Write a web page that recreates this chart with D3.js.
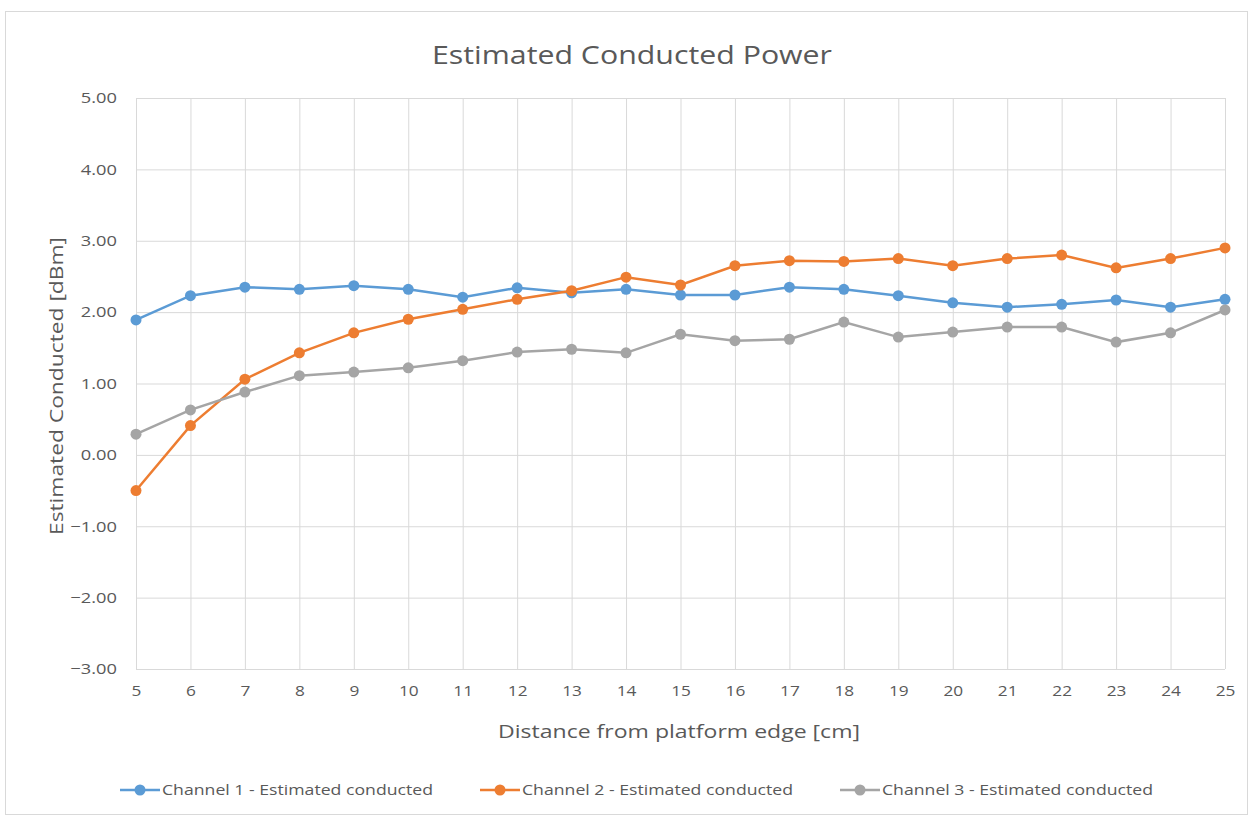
<!DOCTYPE html>
<html>
<head>
<meta charset="utf-8">
<script src="https://cdn.jsdelivr.net/npm/d3@7"></script>
<style>
  body { margin: 0; background: #fff; }
  text { font-family: "Open Sans", sans-serif; fill: #595959; }
</style>
</head>
<body>
<div id="chart"></div>
<script>
// distance from platform edge [cm]
var distances = [5, 6, 7, 8, 9, 10, 11, 12, 13, 14, 15, 16, 17, 18, 19, 20, 21, 22, 23, 24, 25];

var channel1 = [1.89, 2.23, 2.35, 2.32, 2.37, 2.32, 2.21, 2.34, 2.27, 2.32, 2.24, 2.24, 2.35, 2.32, 2.23, 2.13, 2.07, 2.11, 2.17, 2.07, 2.18];
var channel2 = [-0.50, 0.41, 1.06, 1.43, 1.71, 1.90, 2.04, 2.18, 2.30, 2.49, 2.38, 2.65, 2.72, 2.71, 2.75, 2.65, 2.75, 2.80, 2.62, 2.75, 2.90];
var channel3 = [0.29, 0.63, 0.88, 1.11, 1.16, 1.22, 1.32, 1.44, 1.48, 1.43, 1.69, 1.60, 1.62, 1.86, 1.65, 1.72, 1.79, 1.79, 1.58, 1.71, 2.03];

var seriesNames = ["Channel 1 - Estimated conducted", "Channel 2 - Estimated conducted", "Channel 3 - Estimated conducted"];
var yTicks = [-3, -2, -1, 0, 1, 2, 3, 4, 5];

var colors = ["#5b9bd5", "#ed7d31", "#a5a5a5"];
var allSeries = [channel1, channel2, channel3];

var W = 1248, H = 815;
var margin = { top: 98, right: 23, bottom: 146, left: 136 },
    width = W - margin.left - margin.right,
    height = H - margin.top - margin.bottom;

var svg = d3.select('#chart').append('svg')
    .attr('width', W)
    .attr('height', H);

// the source font is drawn wider than Open Sans, so stretch text a bit
function stretch(sel, factor, target) {
  sel.each(function() {
    var len = target || this.getComputedTextLength() * factor;
    d3.select(this)
      .attr('textLength', len)
      .attr('lengthAdjust', 'spacingAndGlyphs');
  });
}

// chart frame
svg.append('rect')
    .attr('x', 5.5).attr('y', 11.5)
    .attr('width', W - 6).attr('height', H - 12)
    .attr('fill', 'none')
    .attr('stroke', '#d9d9d9');

var xScale = d3.scaleLinear()
    .domain([5, 25])
    .range([0, width]);

var yScale = d3.scaleLinear()
    .domain([-3, 5])
    .range([height, 0]);

var g = svg.append('g')
    .attr('transform', 'translate(' + margin.left + ',' + margin.top + ')');

// horizontal grid
g.append('g')
    .call(d3.axisLeft(yScale).tickValues(yTicks).tickSize(-width).tickFormat(''))
    .call(function(a) {
      a.select('.domain').remove();
      a.selectAll('line').attr('stroke', '#d9d9d9');
    });

// vertical grid
g.append('g')
    .attr('transform', 'translate(0,' + height + ')')
    .call(d3.axisBottom(xScale).tickValues(distances).tickSize(-height).tickFormat(''))
    .call(function(a) {
      a.select('.domain').remove();
      a.selectAll('line').attr('stroke', '#d9d9d9');
    });

// y tick labels
g.append('g')
    .call(d3.axisLeft(yScale).tickValues(yTicks).tickSize(0).tickPadding(19)
      .tickFormat(d3.format('.2f')))
    .call(function(a) {
      a.select('.domain').remove();
      a.selectAll('text').style('font-size', '15px').attr('fill', '#595959')
        .call(stretch, 1.22);
    });

// x tick labels
g.append('g')
    .attr('transform', 'translate(0,' + height + ')')
    .call(d3.axisBottom(xScale).tickValues(distances).tickSize(0).tickPadding(16)
      .tickFormat(d3.format('d')))
    .call(function(a) {
      a.select('.domain').remove();
      a.selectAll('text').style('font-size', '15px').attr('fill', '#595959')
        .call(stretch, 1.15);
    });

var line = d3.line()
    .x(function(d, i) { return xScale(distances[i]); })
    .y(function(d) { return yScale(d); });

allSeries.forEach(function(s, k) {
  g.append('path')
      .datum(s)
      .attr('fill', 'none')
      .attr('stroke', colors[k])
      .attr('stroke-width', 2.5)
      .attr('d', line);

  g.selectAll('.pt' + k)
    .data(s)
    .enter().append('circle')
      .attr('class', 'pt' + k)
      .attr('cx', function(d, i) { return xScale(distances[i]); })
      .attr('cy', function(d) { return yScale(d); })
      .attr('r', 5.5)
      .attr('fill', colors[k]);
});

// title
svg.append('text')
    .attr('x', 632).attr('y', 64)
    .attr('text-anchor', 'middle')
    .style('font-size', '25px')
    .text('Estimated Conducted Power')
    .call(stretch, 1, 400);

// axis titles
svg.append('text')
    .attr('x', 679).attr('y', 738)
    .attr('text-anchor', 'middle')
    .style('font-size', '19px')
    .text('Distance from platform edge [cm]')
    .call(stretch, 1, 362);

svg.append('text')
    .attr('transform', 'translate(63,386) rotate(-90)')
    .attr('text-anchor', 'middle')
    .style('font-size', '19px')
    .text('Estimated Conducted [dBm]')
    .call(stretch, 1, 298);

// legend
var legendX = [120, 480, 840];
var legend = svg.append('g').attr('transform', 'translate(0,790)');
seriesNames.forEach(function(name, k) {
  var lg = legend.append('g').attr('transform', 'translate(' + legendX[k] + ',0)');
  lg.append('line')
      .attr('x1', 0).attr('x2', 40)
      .attr('stroke', colors[k]).attr('stroke-width', 2.5);
  lg.append('circle')
      .attr('cx', 20).attr('r', 5.5).attr('fill', colors[k]);
  lg.append('text')
      .attr('x', 42).attr('dy', '0.35em')
      .style('font-size', '14.5px')
      .text(name)
      .call(stretch, 1, 271);
});
</script>
</body>
</html>
